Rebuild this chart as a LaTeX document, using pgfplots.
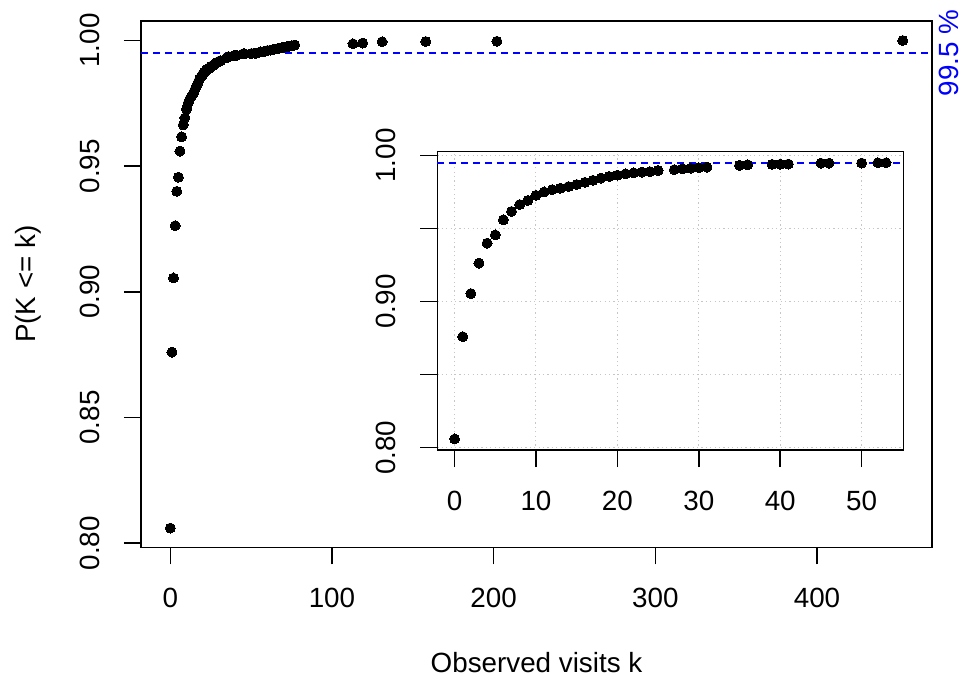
\documentclass[border=0pt]{standalone}
\usepackage{pgfplots}
\pgfplotsset{compat=1.18}
\usepackage{pgfplotstable}
\usepackage{fontspec}
\setmainfont{Liberation Sans}

% empirical CDF of the number of observed visits
\pgfplotstableread{
k p
0 0.8060
1 0.8760
2 0.9055
3 0.9263
4 0.9400
5 0.9456
6 0.9560
7 0.9617
8 0.9664
9 0.9692
10 0.9727
11 0.9750
12 0.9766
13 0.9776
14 0.9787
15 0.9801
16 0.9816
17 0.9830
18 0.9845
19 0.9856
20 0.9865
21 0.9874
22 0.9881
23 0.9886
24 0.9889
25 0.9897
27 0.9903
28 0.9909
29 0.9913
30 0.9916
31 0.9920
35 0.9932
36 0.9936
39 0.9939
40 0.9940
41 0.9941
45 0.9947
46 0.9947
50 0.9948
52 0.9950
53 0.9950
55 0.9953
56 0.9955
58 0.9957
59 0.9958
60 0.9960
62 0.9962
63 0.9963
64 0.9965
66 0.9967
67 0.9969
69 0.9971
70 0.9973
72 0.9975
73 0.9977
75 0.9979
76 0.9980
77 0.9982
113 0.9987
119 0.9990
131 0.9995
158 0.9996
202 0.9997
453 1.0000
}\ecdf

\newcommand{\rfont}{\fontsize{13.9}{16}\selectfont}

\pgfplotsset{
  rplot/.style={
    scale only axis, clip=false,
    axis line style={line width=0.75pt, black},
    every tick/.style={line width=0.75pt, black},
    major tick length=8.5pt,
    tick align=outside,
    xtick pos=left, ytick pos=left,
    tick label style={font=\rfont},
    label style={font=\rfont},
    xticklabel style={anchor=base, inner sep=0pt},
    yticklabel style={rotate=90, anchor=base, inner sep=0pt},
    xticklabel shift=21.7pt,
    yticklabel shift=12.35pt,
  },
  pts/.style={only marks, mark=*, mark size=2.5pt,
    mark options={fill=black, draw=black, line width=0pt}},
  cut/.style={blue, line width=0.8pt, dash pattern=on 3.3pt off 2.7pt},
}

\begin{document}
\begin{tikzpicture}
\path (0pt,0pt) rectangle (480.5pt,337.5pt);

% full range
\begin{axis}[rplot,
  at={(70.5pt,63.85pt)}, anchor=south west,
  width=395.5pt, height=263.15pt,
  xmin=-18.12, xmax=471.12, ymin=0.79834, ymax=1.00776,
  xtick={0,100,200,300,400}, xticklabels={0,100,200,300,400},
  ytick={0.8,0.85,0.9,0.95,1.0},
  yticklabels={0.80,0.85,0.90,0.95,1.00},
  xlabel={Observed visits k},
  xlabel style={at={(axis description cs:0.5,-0.2375)}, anchor=base, inner sep=0pt},
  ylabel={P(K <= k)},
  ylabel style={at={(axis description cs:-0.1338,0.5)}, anchor=base, inner sep=0pt},
]
\addplot[cut] coordinates {(-18.12,0.995) (471.12,0.995)};
\addplot[pts] table[x=k, y=p] {\ecdf};
\node[rotate=90, anchor=base, inner sep=0pt, text=blue, font=\rfont]
  at (axis cs:487.2,0.995) {99.5 \%};
\end{axis}

% zoom on the first visits
\begin{axis}[rplot,
  at={(218.65pt,112.5pt)}, anchor=south west,
  width=233pt, height=149.15pt,
  axis background/.style={fill=white},
  xmin=-2.12, xmax=55.12, ymin=0.79844, ymax=1.00256,
  xtick={0,10,20,30,40,50}, xticklabels={0,10,20,30,40,50},
  ytick={0.8,0.85,0.9,0.95,1.0},
  yticklabels={0.80,,0.90,,1.00},
  grid=major,
  major grid style={gray!45, line width=0.5pt, dash pattern=on 0.6pt off 1.6pt},
]
\addplot[cut] coordinates {(-2.12,0.995) (55.12,0.995)};
\addplot[pts, restrict x to domain=0:53.5] table[x=k, y=p] {\ecdf};
\end{axis}
\end{tikzpicture}
\end{document}
